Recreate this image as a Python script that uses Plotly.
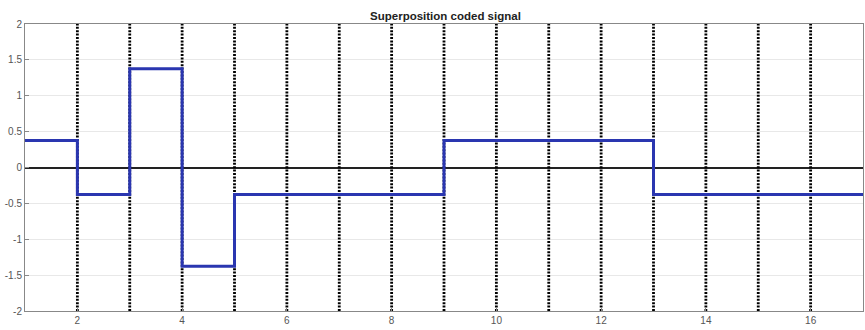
import plotly.graph_objects as go

# Signal data (step function, value holds until next edge)
edge_x = [1, 2, 3, 4, 5, 9, 13, 17]
level_y = [0.375, -0.375, 1.375, -1.375, -0.375, 0.375, -0.375, -0.375]
# bit boundaries (dotted separators)
boundaries = list(range(2, 17))
x_ticks = [2, 4, 6, 8, 10, 12, 14, 16]
y_ticks = [-2, -1.5, -1, -0.5, 0, 0.5, 1, 1.5, 2]
y_tick_text = ["-2", "-1.5", "-1", "-0.5", "0", "0.5", "1", "1.5", "2"]

fig = go.Figure()

# dotted separator lines
bx, by = [], []
for b in boundaries:
    bx += [b, b, None]
    by += [-2, 2, None]
fig.add_trace(go.Scatter(x=bx, y=by, mode="lines",
                         line=dict(color="black", width=2.8, dash="2px,1.4px"),
                         hoverinfo="skip", showlegend=False))

fig.add_trace(go.Scatter(x=edge_x, y=level_y, mode="lines", line_shape="hv",
                         line=dict(color="#2a36b0", width=3),
                         showlegend=False))

axis_font = dict(family="Liberation Sans, Arial, sans-serif", size=10, color="#555555")
fig.update_layout(
    width=865, height=330,
    margin=dict(l=25, r=2, t=24, b=19, autoexpand=False),
    paper_bgcolor="white", plot_bgcolor="white",
    title=dict(text="<b>Superposition coded signal</b>", x=0.515, xanchor="center",
               y=1 - 16 / 330, yanchor="middle", automargin=False,
               font=dict(family="Liberation Sans, Arial, sans-serif", size=11.5, color="#222222")),
    xaxis=dict(range=[1, 17], tickvals=x_ticks, ticktext=[str(v) for v in x_ticks],
               automargin=False,
               showgrid=False, zeroline=False, showline=True, linecolor="#888888",
               linewidth=1, mirror=True, ticks="inside", ticklen=4, tickcolor="#888888",
               tickfont=axis_font),
    yaxis=dict(range=[-2, 2], tickvals=y_ticks, ticktext=y_tick_text, automargin=False,
               showgrid=True, gridcolor="#e8e8e8", gridwidth=1,
               zeroline=True, zerolinecolor="#222222", zerolinewidth=1.5,
               showline=True, linecolor="#888888", linewidth=1, mirror=True,
               ticks="inside", ticklen=4, tickcolor="#888888", tickfont=axis_font),
)

fig.write_html("out.html", config={"displayModeBar": False},
               post_script="document.body.style.margin='0';document.body.style.overflow='hidden';")
